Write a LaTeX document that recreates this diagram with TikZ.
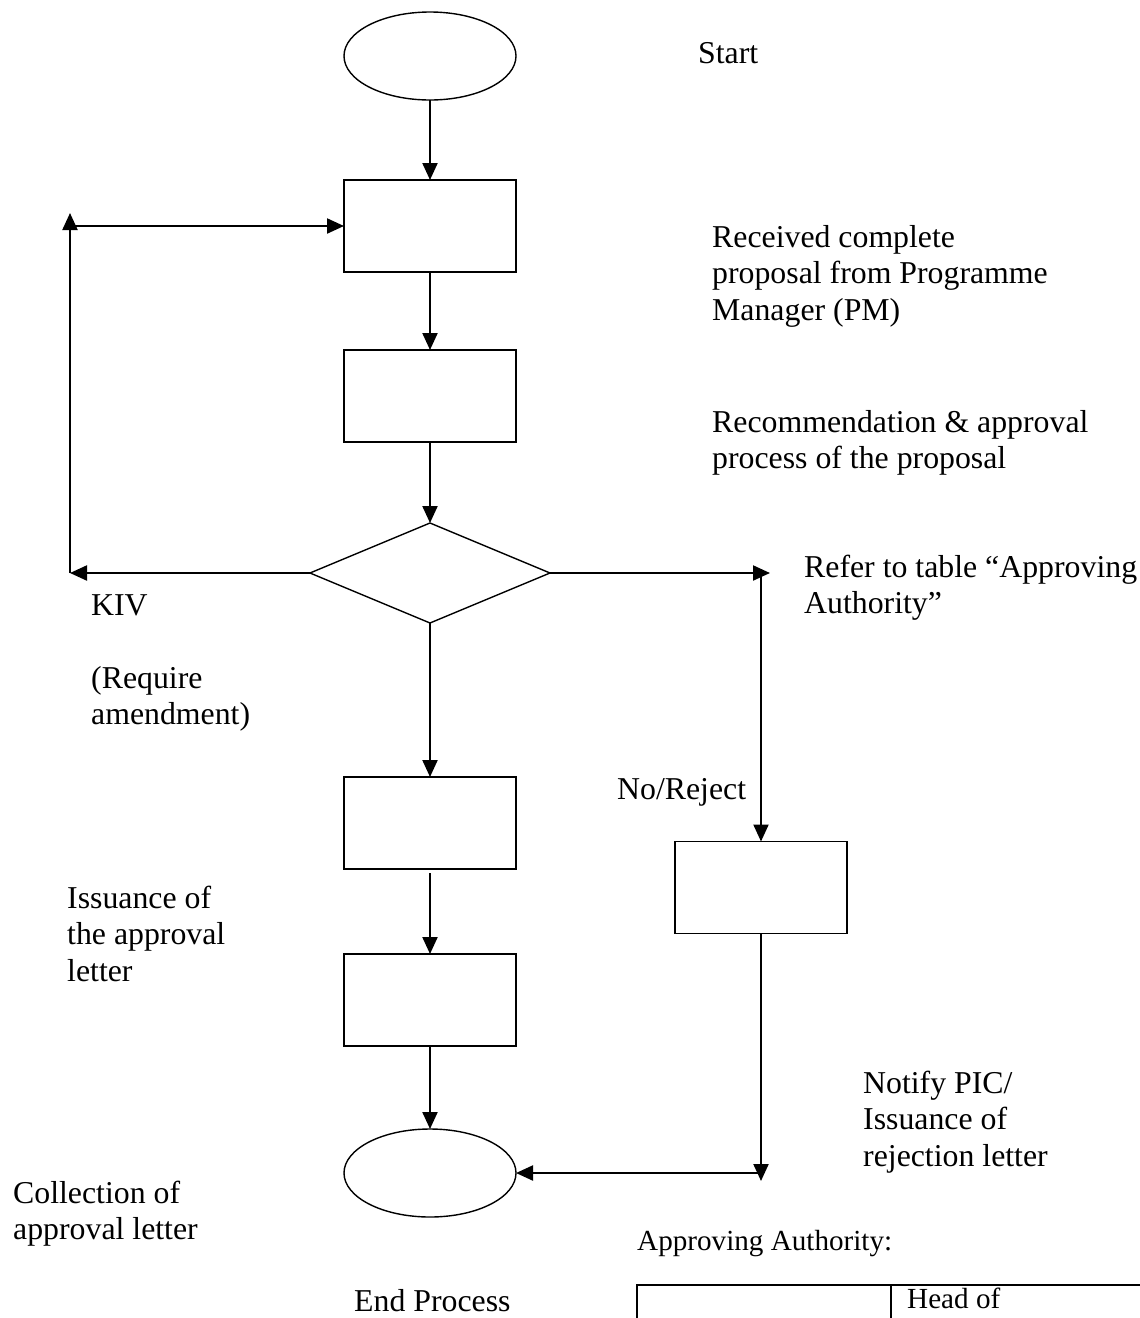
\documentclass[tikz,border=0pt]{standalone}
\usepackage{fontspec}
\setmainfont{Liberation Serif}
\usetikzlibrary{shapes.geometric,arrows.meta}
\newcommand{\txtlines}[1]{\begin{tabular}[t]{@{}l@{}}#1\end{tabular}}
\begin{document}
\begin{tikzpicture}[x=1pt,y=-1pt,
  flowbox/.style={draw,line width=1.4pt,minimum width=172pt,minimum height=92pt,inner sep=0pt,outer sep=0pt},
  term/.style={draw,ellipse,line width=1.4pt,minimum width=172pt,minimum height=88pt,inner sep=0pt,outer sep=0pt},
  decision/.style={draw,diamond,line width=1.4pt,minimum width=240pt,minimum height=100pt,inner sep=0pt,outer sep=0pt},
  flow/.style={line width=2.2pt,-{Triangle[length=17pt,width=15pt]}},
  plain/.style={line width=2pt},
  lbl/.style={anchor=base west,inner sep=0pt,font=\fontsize{31.8}{36.6}\selectfont},
  smalllbl/.style={anchor=base west,inner sep=0pt,font=\fontsize{29.15}{33.5}\selectfont}]
\useasboundingbox (0,0) rectangle (1140,1318);

% shapes
\node[term] (start) at (430,56) {};
\node[flowbox] (b1) at (430,226) {};
\node[flowbox] (b2) at (430,396) {};
\node[decision] (dec) at (430,573) {};
\node[flowbox] (b4) at (430,823) {};
\node[flowbox] (b5) at (430,1000) {};
\node[term] (end) at (430,1173) {};
\node[flowbox] (b3) at (761,887.5) {};

% helper coordinates
\coordinate (kivL) at (70,573);
\coordinate (kivT) at (70,213);
\coordinate (kivH) at (70,226);
\coordinate (rTip) at (770,573);
\coordinate (rCorner) at (761,573);
\coordinate (rBot) at (761,1181);
\coordinate (rJoin) at (761,1173);

% connectors
\draw[flow] (start.south) -- (b1.north);
\draw[flow] (b1.south) -- (b2.north);
\draw[flow] (b2.south) -- (dec.north);
\draw[flow] (dec.south) -- (b4.north);
\draw[flow] ([yshift=-4pt]b4.south) -- (b5.north);
\draw[flow] (b5.south) -- (end.north);
\draw[flow] (dec.west) -- (kivL);
\draw[flow] (kivL) -- (kivT);
\draw[flow] (kivH) -- (b1.west);
\draw[flow] (dec.east) -- (rTip);
\draw[flow] (rCorner) -- (b3.north);
\draw[flow] (b3.south) -- (rBot);
\draw[flow] (rJoin) -- (end.east);

% labels
\node[lbl] (tStart) at (698,63) {Start};
\node[lbl] (tRecv) at (712,247) {\txtlines{Received complete\\proposal from Programme\\Manager (PM)}};
\node[lbl] (tRec) at (712,432) {\txtlines{Recommendation \& approval\\process of the proposal}};
\node[lbl] (tRefer) at (804,577) {\txtlines{Refer to table “Approving\\Authority”}};
\node[lbl] (tKIV) at (91,615) {KIV};
\node[lbl] (tReq) at (91,688) {\txtlines{(Require\\amendment)}};
\node[lbl] (tNo) at (617,799) {No/Reject};
\node[lbl] (tIss) at (67,908) {\txtlines{Issuance of\\the approval\\letter}};
\node[lbl] (tNotify) at (863,1093) {\txtlines{Notify PIC/\\Issuance of\\rejection letter}};
\node[lbl] (tColl) at (13,1203) {\txtlines{Collection of\\approval letter}};
\node[lbl] (tEnd) at (354,1311) {End Process};
\node[smalllbl] (tAuth) at (637,1250) {Approving Authority:};

% table (cut off at page edge)
\draw[plain] (637,1318) -- (637,1285) -- (1140,1285);
\draw[plain] (891,1285) -- (891,1318);
\node[smalllbl] (tHead) at (907,1308) {Head of};
\end{tikzpicture}
\end{document}
